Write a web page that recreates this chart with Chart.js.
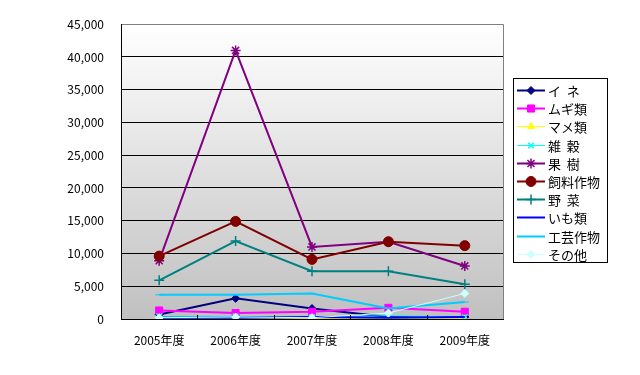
<!DOCTYPE html>
<html>
<head>
<meta charset="utf-8">
<script src="https://cdn.jsdelivr.net/npm/chart.js@4/dist/chart.umd.min.js"></script>
<style>
html,body{margin:0;padding:0;background:#fff;}
#wrap{position:relative;width:640px;height:375px;}
</style>
</head>
<body>
<div id="wrap"><canvas id="c" width="640" height="375"></canvas></div>
<script>
// ===== DATA =====
const years=["2005年度","2006年度","2007年度","2008年度","2009年度"];
const names=["イ  ネ","ムギ類","マメ類","雑  穀","果  樹","飼料作物","野  菜","いも類","工芸作物","その他"];
const ine=[700,3150,1600,300,300];
const mugi=[1300,900,1100,1700,1100];
const mame=[30,30,30,30,30];
const zakkoku=[400,400,300,500,300];
const kaju=[8900,41000,11000,11800,8100];
const shiryo=[9600,14900,9100,11800,11200];
const yasai=[5900,11900,7300,7300,5300];
const imo=[200,200,300,200,300];
const kogei=[3700,3700,3900,1600,2600];
const sonota=[200,300,200,900,3900];
const yTicks=[0,5000,10000,15000,20000,25000,30000,35000,40000,45000];

// ===== STYLES =====
const series=[ine,mugi,mame,zakkoku,kaju,shiryo,yasai,imo,kogei,sonota];
const colors=["#000080","#ff00ff","#ffff00","#00ffff","#800080","#800000","#008080","#0000ff","#00ccff","#ccffff"];
const marks=["rectRot","rect","triangle","crossRot","star","circle","cross",false,"line","rectRot"];
const radii=[4,5,4,4,5,5,5,0,4,4];
const widths=[2,2,1,1,2,2,2,2,2,1];
const FONT='"Noto Sans CJK JP", sans-serif';

const datasets=series.map((d,i)=>({
 label:names[i],
 data:d,
 borderColor:colors[i],
 backgroundColor:colors[i],
 borderWidth:widths[i],
 pointStyle:marks[i],
 pointRadius:radii[i],
 pointBorderWidth:(marks[i]==="star"||marks[i]==="cross"||marks[i]==="crossRot")?1.5:1,
 pointBorderColor:colors[i],
 pointBackgroundColor:colors[i],
 tension:0,
 order:10-i
}));

// ===== PLUGIN: fondo, bordes, leyenda =====
const frame={
 id:"frame",
 beforeDraw(chart){
  const a=chart.chartArea,ctx=chart.ctx;
  const g=ctx.createLinearGradient(0,a.top,0,a.bottom);
  g.addColorStop(0,"#ffffff");
  g.addColorStop(1,"#c0c0c0");
  ctx.save();
  ctx.fillStyle=g;
  ctx.fillRect(a.left,a.top,a.right-a.left,a.bottom-a.top);
  ctx.restore();
 },
 afterDraw(chart){
  const a=chart.chartArea,ctx=chart.ctx;
  ctx.save();
  // borde derecho gris
  ctx.strokeStyle="#808080";
  ctx.lineWidth=1;
  ctx.beginPath();
  ctx.moveTo(Math.round(a.right)+0.5,a.top);
  ctx.lineTo(Math.round(a.right)+0.5,a.bottom);
  ctx.stroke();
  // marcas del eje x
  ctx.strokeStyle="#000";
  const step=(a.right-a.left)/years.length;
  for(let k=1;k<years.length;k++){
   const x=Math.round(a.left+step*k)+0.5;
   ctx.beginPath();ctx.moveTo(x,a.bottom);ctx.lineTo(x,a.bottom-4);ctx.stroke();
  }
  // leyenda
  const lx=513,ly=78,lw=94,lh=184;
  ctx.fillStyle="#fff";
  ctx.fillRect(lx,ly,lw,lh);
  ctx.strokeStyle="#000";
  ctx.strokeRect(lx+0.5,ly+0.5,lw,lh);
  ctx.font="13px "+FONT;
  ctx.textBaseline="middle";
  names.forEach((n,i)=>{
   const y=Math.round(90+i*18.2)+0.5;
   ctx.strokeStyle=colors[i];
   ctx.lineWidth=widths[i];
   ctx.beginPath();ctx.moveTo(517,y);ctx.lineTo(545,y);ctx.stroke();
   if(marks[i]&&Chart.helpers&&Chart.helpers.drawPoint){
    ctx.fillStyle=colors[i];
    ctx.strokeStyle=colors[i];
    ctx.lineWidth=datasets[i].pointBorderWidth;
    Chart.helpers.drawPoint(ctx,{pointStyle:marks[i],radius:radii[i],rotation:0,borderWidth:datasets[i].pointBorderWidth},531,y);
   }
   ctx.fillStyle="#000";
   ctx.fillText(n,548,y+1);
  });
  ctx.restore();
 }
};

new Chart(document.getElementById("c"),{
 type:"line",
 data:{labels:years,datasets:datasets},
 options:{
  responsive:false,
  animation:false,
  layout:{padding:{left:0,top:21,right:137,bottom:0}},
  plugins:{legend:{display:false},tooltip:{enabled:false}},
  scales:{
   x:{
    offset:true,
    grid:{display:false},
    border:{display:true,color:"#000",width:1},
    ticks:{color:"#000",font:{family:FONT,size:12},padding:6,maxRotation:0},
    afterFit(s){s.height=56;}
   },
   y:{
    min:0,max:45000,
    afterBuildTicks(s){s.ticks=yTicks.map(v=>({value:v}));},
    grid:{color:c=>c.tick&&c.tick.value===45000?"#808080":"#000",lineWidth:1,drawTicks:false},
    border:{display:true,color:"#000",width:1},
    ticks:{color:"#000",font:{family:FONT,size:12},padding:17,
     callback:v=>v.toLocaleString("en-US")},
    afterFit(s){s.width=121;}
   }
  }
 },
 plugins:[frame]
});
</script>
</body>
</html>
